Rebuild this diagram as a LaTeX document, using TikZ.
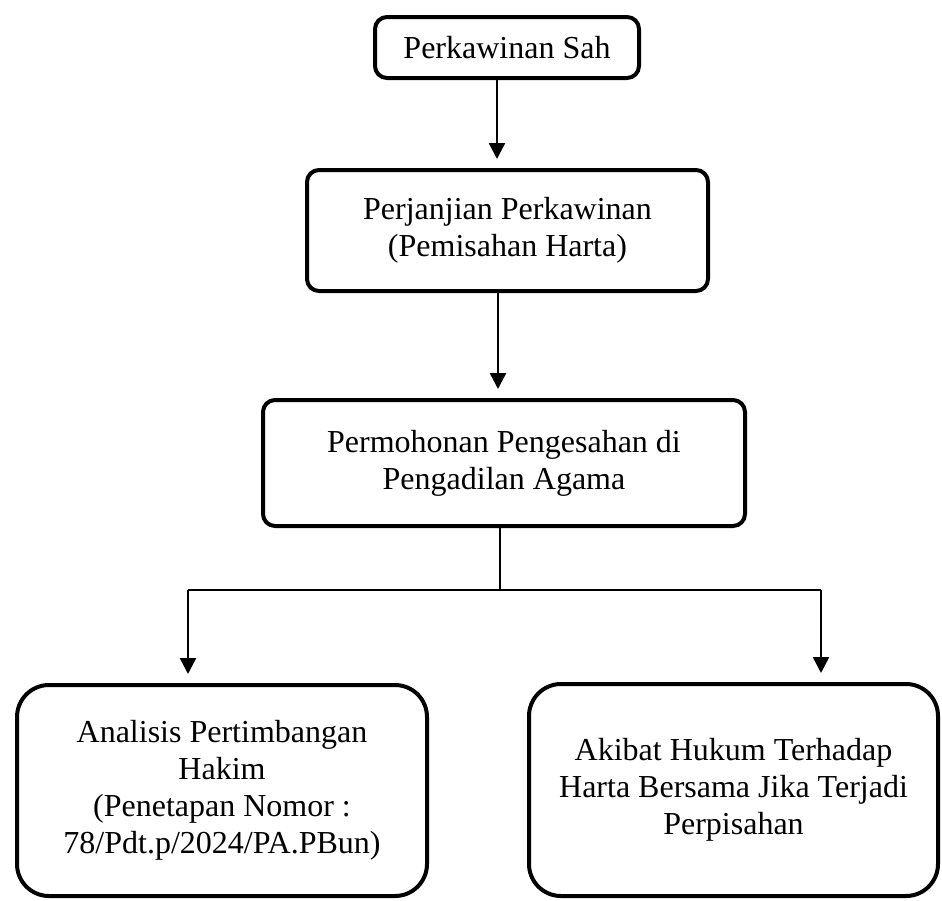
\documentclass[tikz,border=0pt]{standalone}
\usepackage{fontspec}
\setmainfont{Liberation Serif}
\usetikzlibrary{arrows.meta}

\begin{document}
\begin{tikzpicture}[x=1pt, y=-1pt,
        box/.style={draw, line width=4pt, rounded corners=12pt, align=center,
                    font=\fontsize{32}{37}\selectfont, inner sep=0pt},
        bigbox/.style={box, rounded corners=32pt},
        arrow/.style={-{Triangle[length=16pt,width=16pt]}, line width=2.5pt, shorten >=9pt},
        link/.style={line width=1.6pt}]
        \useasboundingbox (0,0) rectangle (942,900);

        \node[box, minimum width=264pt, minimum height=61pt] (sah) at (507,47.5) {Perkawinan Sah};
        \node[box, minimum width=401pt, minimum height=121pt] (janji) at (507.5,230.5) {Perjanjian Perkawinan\\(Pemisahan Harta)};
        \node[box, minimum width=482pt, minimum height=126pt] (mohon) at (504,463) {Permohonan Pengesahan di\\Pengadilan Agama};
        \node[bigbox, minimum width=410pt, minimum height=211pt] (analisis) at (222,790.5) {Analisis Pertimbangan\\Hakim\\(Penetapan Nomor :\\78/Pdt.p/2024/PA.PBun)};
        \node[bigbox, minimum width=409pt, minimum height=212pt] (akibat) at (733.5,790) {Akibat Hukum Terhadap\\Harta Bersama Jika Terjadi\\Perpisahan};
        \coordinate (split) at (500,590);
        \coordinate (turnL) at (188,590);
        \coordinate (turnR) at (821,590);

        \draw[arrow] ([xshift=-10pt]sah.south) -- ([xshift=-10pt]sah.south |- janji.north);
        \draw[arrow] ([xshift=-9.5pt]janji.south) -- ([xshift=-9.5pt]janji.south |- mohon.north);
        \draw[link] ([xshift=-4pt]mohon.south) -- (split);
        \draw[link] (turnL) -- (turnR);
        \draw[arrow] (turnL) -- (turnL |- analisis.north);
        \draw[arrow] (turnR) -- (turnR |- akibat.north);

      \end{tikzpicture}
\end{document}
